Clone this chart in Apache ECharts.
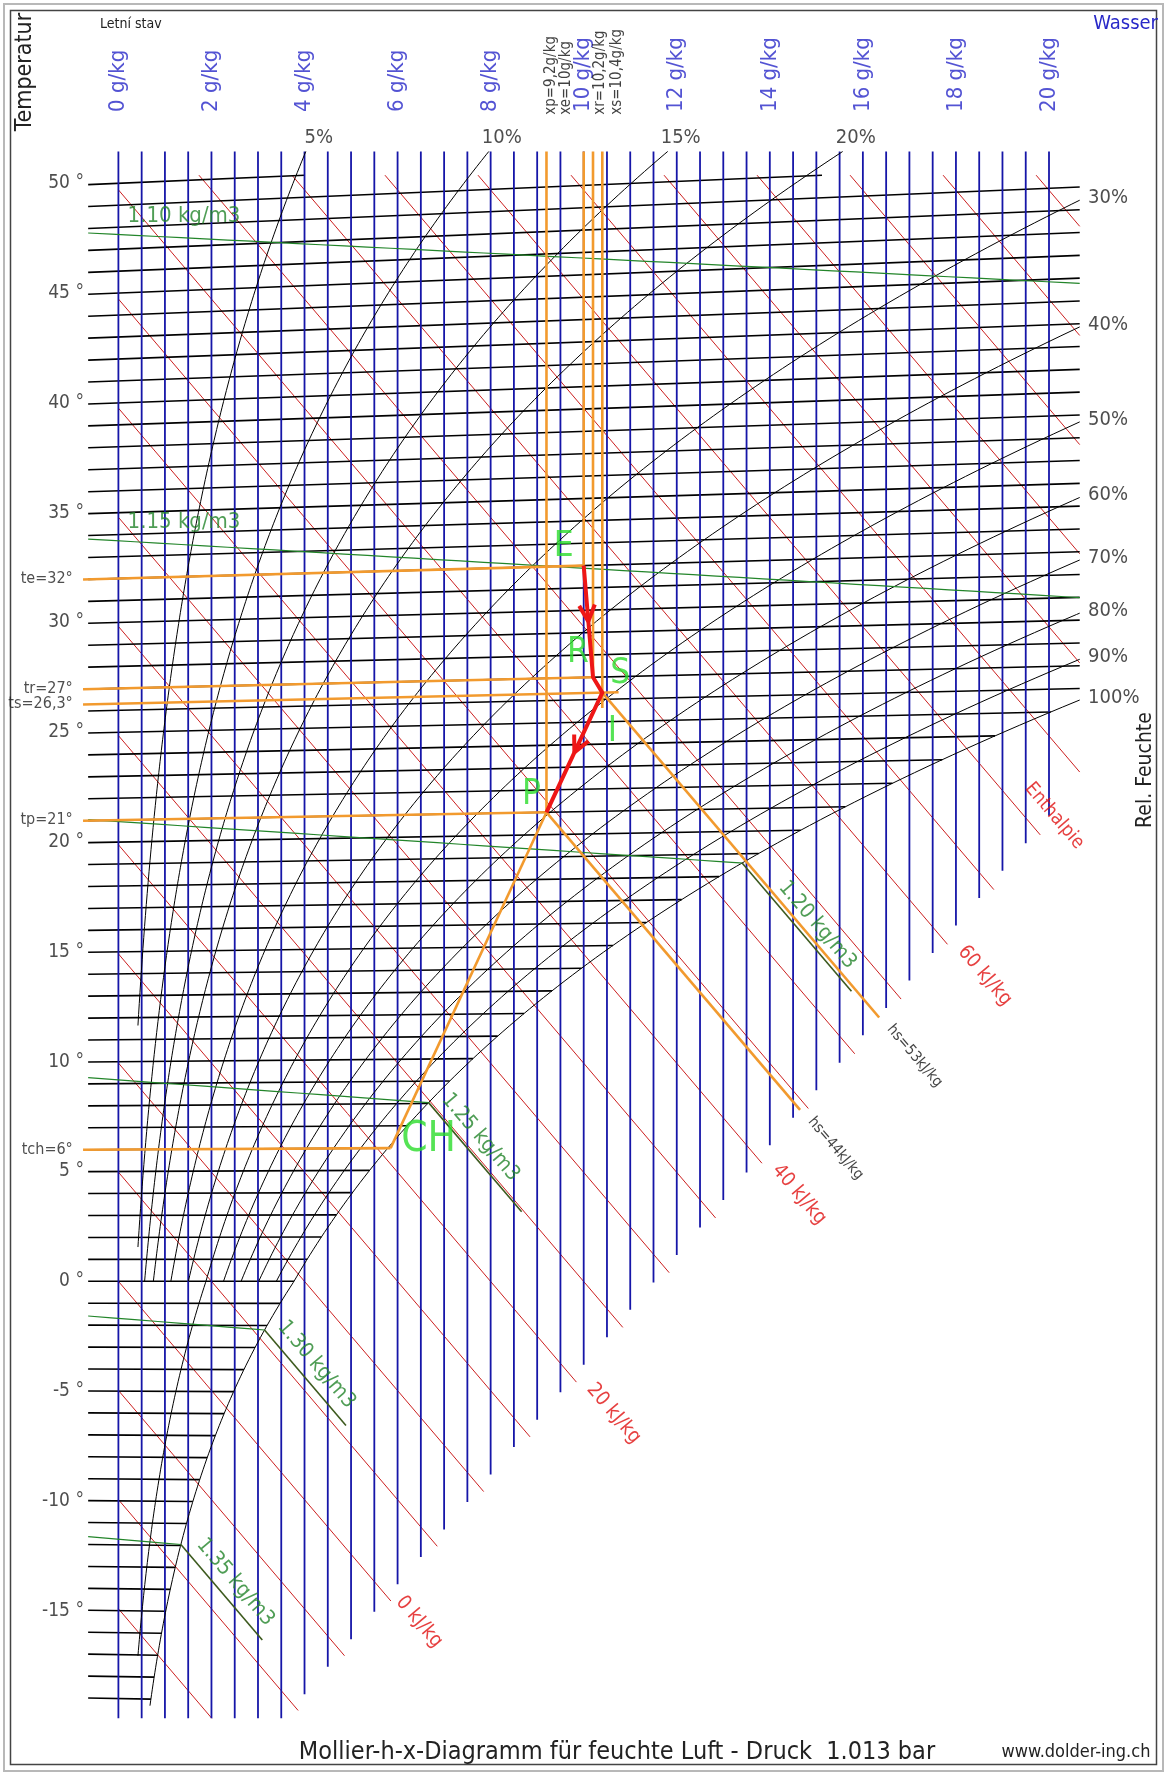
<!DOCTYPE html>
<html>
<head>
<meta charset="utf-8">
<script src="https://cdn.jsdelivr.net/npm/echarts@6/dist/echarts.min.js"></script>
<style>
  html, body { margin: 0; padding: 0; background: #fff; }
  #chart { width: 1168px; height: 1776px; }
</style>
</head>
<body>
<div id="chart"></div>
<script>
// ---- values ----
const waterLines = [0, 0.5, 1, 1.5, 2, 2.5, 3, 3.5, 4, 4.5, 5, 5.5, 6, 6.5, 7, 7.5, 8, 8.5, 9, 9.5, 10,
  10.5, 11, 11.5, 12, 12.5, 13, 13.5, 14, 14.5, 15, 15.5, 16, 16.5, 17, 17.5, 18, 18.5, 19, 19.5, 20];
const waterTicks = [0, 2, 4, 6, 8, 10, 12, 14, 16, 18, 20];
const isotherms = [-19, -18, -17, -16, -15, -14, -13, -12, -11, -10, -9, -8, -7, -6, -5, -4, -3, -2, -1,
  0, 1, 2, 3, 4, 5, 6, 7, 8, 9, 10, 11, 12, 13, 14, 15, 16, 17, 18, 19, 20, 21, 22, 23, 24, 25,
  26, 27, 28, 29, 30, 31, 32, 33, 34, 35, 36, 37, 38, 39, 40, 41, 42, 43, 44, 45, 46, 47, 48, 49, 50];
const tempTicks = [50, 45, 40, 35, 30, 25, 20, 15, 10, 5, 0, -5, -10, -15];
const rhLevels = [5, 10, 15, 20, 30, 40, 50, 60, 70, 80, 90, 100];
const rhLowestT = [0, 0, 0, 0, 0, 0, -19.3, 0, 0, 0, 0, -19.3];   // where each curve stops at the bottom
const rhTopLevels = [5, 10, 15, 20];
const enthalpyLines = [-15, -10, -5, 0, 5, 10, 15, 20, 25, 30, 35, 40, 45, 50, 55, 60, 65, 70, 75, 80, 85, 90, 95, 100];
const enthalpyLabels = [0, 20, 40, 60];
const densityLevels = [1.10, 1.15, 1.20, 1.25, 1.30, 1.35];
const densityFogDx = [0, 0, 2.35, 2.0, 1.75, 1.75];     // g/kg run of the fog part
const stateNames = ['E', 'R', 'S', 'P', 'CH'];
const stateT = [32, 27, 26.3, 21, 6];
const stateX = [10, 10.2, 10.4, 9.2, 5.85];
const stateTempLabels = ['te=32°', 'tr=27°', 'ts=26,3°', 'tp=21°', 'tch=6°'];
const stateXLabels = ['xp=9,2g/kg', 'xe=10g/kg', 'xr=10,2g/kg', 'xs=10,4g/kg'];
const hsEndX = [16.35, 14.65];   // orange enthalpy lines from S and P
const hsLabels = ['hs=53kJ/kg', 'hs=44kJ/kg'];

// ---- frame of the diagram (pixel mapping of the two value axes) ----
const W = 1168, H = 1776;
const X0PX = 118.4, KX = 46.53;     // 0 g/kg, px per g/kg
const Y0PX = 1281.3, KY = 21.96;    // 0 deg C, px per deg C
const X_LEFT = -0.65, X_RIGHT = 20.66, X_START = 0.42;
const Y_TOP = 50.37, Y_TOP_RH = 51.45, Y_BOT = -19.9;
const BND_A = -28.8, BND_B = 2.5;   // lower right edge of the grid
const P = 101.3;
const FONT = '"Liberation Sans Narrow","DejaVu Sans Condensed","Liberation Sans",Arial,sans-serif';
const stateXLabelPos = [9.31, 9.63, 10.35, 10.71];
const densityLabelAlong = [0, 0, 96, 60, 60, 64];

const BLUE = '#1616a8', RED = '#cc1f1f', GREEN = '#23852a', ORANGE = '#f29a2e', LIME = '#2bdc2b';

function psat(T) {
  return T >= 0 ? 0.61094 * Math.exp(17.625 * T / (T + 243.04))
                : 0.61115 * Math.exp(22.452 * T / (272.55 + T));
}
function xOf(T, phi) { const pv = phi * psat(T); return 622 * pv / (P - pv); }
function yOf(T, x) { return T * (1 + 0.001849 * x); }
function hOf(T, x) { return 1.006 * T + x / 1000 * (2501 + 1.86 * T); }
function yOfH(h, x) { return (h - 2.501 * x) / 1.006; }
function rhoT(rho, x) { return P * 1000 * (1 + x / 1000) / (rho * 287.05 * (1 + 1.608 * x / 1000)) - 273.15; }
function toPx(p) { return [X0PX + p[0] * KX, Y0PX - p[1] * KY]; }
function toData(q) { return [(q[0] - X0PX) / KX, (Y0PX - q[1]) / KY]; }
function bisect(f, a, b) {
  for (let i = 0; i < 60; i++) { const m = (a + b) / 2; if (f(a) * f(m) <= 0) b = m; else a = m; }
  return (a + b) / 2;
}

// isotherms
const isoData = [];
isotherms.forEach(T => {
  let x1 = Math.min(xOf(T, 1), X_RIGHT);
  if (T > 0) x1 = Math.min(x1, (Y_TOP / T - 1) / 0.001849);
  if (x1 > X_LEFT) isoData.push({ coords: [[X_LEFT, yOf(T, X_LEFT)], [x1, yOf(T, x1)]] });
});

// water content lines
const waterData = waterLines.map(x => ({ coords: [[x, Y_TOP_RH], [x, Math.max(Y_BOT, BND_A + BND_B * x)]] }));

// enthalpy lines
const hEnd = {};
const enthData = [];
enthalpyLines.forEach(h => {
  const xa = Math.max(0, (h - 1.006 * Y_TOP) / 2.501);
  const xb = Math.min(X_RIGHT, (h - 1.006 * (BND_A - 0.4)) / (2.501 + 1.006 * BND_B), (h - 1.006 * Y_BOT) / 2.501);
  if (xb <= xa) return;
  hEnd[h] = [xb, yOfH(h, xb)];
  enthData.push({ coords: [[xa, yOfH(h, xa)], hEnd[h]] });
});

// relative humidity curves
const rhEnd = {};
const rhData = rhLevels.map((r, i) => {
  const phi = r / 100, tLow = rhLowestT[i];
  let T = xOf(tLow, phi) >= X_START ? tLow : bisect(t => xOf(t, phi) - X_START, tLow, 50);
  const pts = [];
  for (; T < 70; T += 0.25) {
    const x = xOf(T, phi), y = yOf(T, x);
    if (x > X_RIGHT || y > Y_TOP_RH) {
      const [px, py] = pts[pts.length - 1];
      let f = 1;
      if (x > X_RIGHT) f = Math.min(f, (X_RIGHT - px) / (x - px));
      if (y > Y_TOP_RH) f = Math.min(f, (Y_TOP_RH - py) / (y - py));
      pts.push([px + f * (x - px), py + f * (y - py)]);
      break;
    }
    pts.push([x, y]);
  }
  rhEnd[r] = pts[pts.length - 1];
  return { coords: pts };
});

// density lines (dry part + fog part)
const rhoSat = [];
const densData = [];
const fogData = [];
densityLevels.forEach((rho, i) => {
  const f = x => xOf(rhoT(rho, x), 1) - x;
  const xs = f(X_RIGHT) > 0 ? X_RIGHT : bisect(f, 0, X_RIGHT);
  const pts = [];
  for (let x = X_LEFT; x < xs; x += 0.5) pts.push([x, yOf(rhoT(rho, x), x)]);
  pts.push([xs, yOf(rhoT(rho, xs), xs)]);
  densData.push({ coords: pts });
  rhoSat.push(pts[pts.length - 1]);
  if (densityFogDx[i] > 0) {
    const hs = hOf(rhoT(rho, xs), xs);
    const xe = xs + densityFogDx[i];
    fogData.push({ coords: [[xs, yOfH(hs, xs)], [xe, yOfH(hs, xe)]] });
  }
});

// process: states, orange construction lines, red path
const st = stateNames.map((n, i) => [stateX[i], yOf(stateT[i], stateX[i])]);
const [E, R, S, Pp, CH] = st;
const orangeData = [];
stateNames.forEach((n, i) => {
  const T = stateT[i];
  const xr = n === 'S' ? stateX[i] + 0.35 : stateX[i];
  orangeData.push({ coords: [[-0.76, yOf(T, -0.76)], [xr, yOf(T, xr)]] });
  if (n !== 'CH') {
    const yb = n === 'S' ? st[i][1] - 0.7 : st[i][1];
    orangeData.push({ coords: [[stateX[i], Y_TOP_RH], [stateX[i], yb]] });
  }
});
orangeData.push({ coords: [CH, Pp] });
orangeData.push({ coords: [R, S] });
const hS = hOf(stateT[2], stateX[2]), hP = hOf(stateT[3], stateX[3]);
const hsEnds = [[hsEndX[0], yOfH(hS, hsEndX[0])], [hsEndX[1], yOfH(hP, hsEndX[1])]];
orangeData.push({ coords: [S, hsEnds[0]] });
orangeData.push({ coords: [Pp, hsEnds[1]] });

function arrowHead(a, b) {
  const pa = toPx(a), pb = toPx(b);
  const tip = [(pa[0] + pb[0]) / 2, (pa[1] + pb[1]) / 2];
  const ang = Math.atan2(pb[1] - pa[1], pb[0] - pa[0]);
  const wing = s => toData([tip[0] - 18 * Math.cos(ang + s), tip[1] - 18 * Math.sin(ang + s)]);
  return [{ coords: [wing(0.45), toData(tip)] }, { coords: [wing(-0.45), toData(tip)] }];
}
const pathData = [{ coords: [E, R, S, Pp] }].concat(arrowHead(E, R), arrowHead(S, Pp));

// ---- labels ----
const ENTH_DIR = [0.649, 0.761];   // direction of an enthalpy line on screen
const ENTH_ROT = -49.6;
function along(p, s, k) {
  const q = toPx(p);
  return toData([q[0] + s * ENTH_DIR[0] + k * ENTH_DIR[1], q[1] + s * ENTH_DIR[1] - k * ENTH_DIR[0]]);
}
function lbl(value, text, o) {
  return {
    value: value,
    label: Object.assign({ show: true, formatter: text, position: 'inside', fontFamily: FONT,
      fontSize: 19, color: '#222', align: 'center', verticalAlign: 'middle' }, o)
  };
}
const labels = [];
tempTicks.forEach(T => labels.push(lbl([-0.74, T], T + ' °', { align: 'right' })));
waterTicks.forEach(x => labels.push(lbl([x, 53.25], x + ' g/kg', { rotate: 90, align: 'left', color: '#2828c8', fontSize: 22 })));
stateXLabels.forEach((t, i) => labels.push(lbl([stateXLabelPos[i], 53.12], t, { rotate: 90, align: 'left', fontSize: 15, color: '#111' })));
rhTopLevels.forEach(r => {
  const q = toPx(rhEnd[r]);
  labels.push(lbl(toData([q[0] + 13, q[1] - 14]), r + '%', { fontSize: 20 }));
});
rhLevels.filter(r => rhTopLevels.indexOf(r) < 0).forEach(r => {
  labels.push(lbl([20.84, rhEnd[r][1] + 0.1], r + '%', { align: 'left', fontSize: 20 }));
});
enthalpyLabels.forEach(h => labels.push(lbl(along(hEnd[h], h === 0 ? 4 : 12, 8), h + ' kJ/kg',
  { align: 'left', rotate: ENTH_ROT, color: '#e01010', fontSize: 20 })));
{
  const q = toPx(hEnd[70]);
  labels.push(lbl(toData([q[0] + 14, q[1] - 19]), 'Enthalpie', { rotate: ENTH_ROT, color: '#e01010', fontSize: 19 }));
}
hsEnds.forEach((p, i) => labels.push(lbl(along(p, 14, 2), hsLabels[i], { align: 'left', rotate: ENTH_ROT, fontSize: 15, color: '#111' })));
densityLevels.forEach((rho, i) => {
  const text = rho.toFixed(2) + ' kg/m3';
  if (densityFogDx[i] === 0) {
    labels.push(lbl([1.41, yOf(rhoT(rho, 1.41), 1.41) + 1.0], text, { color: GREEN, fontSize: 22 }));
  } else {
    labels.push(lbl(along(rhoSat[i], densityLabelAlong[i], 17), text, { rotate: ENTH_ROT, color: GREEN, fontSize: 21 }));
  }
});
stateTempLabels.forEach((t, i) => labels.push(lbl([-0.98, stateT[i]], t, { align: 'right', fontSize: 16 })));
const letterOffsets = { E: [-20, -19], R: [-15, -24], S: [18, -19], I: [10, 39], P: [-15, -17], CH: [38, -8] };
['E', 'R', 'S', 'I', 'P', 'CH'].forEach(n => {
  const base = st[stateNames.indexOf(n === 'I' ? 'S' : n)];
  const q = toPx(base), o = letterOffsets[n];
  labels.push(lbl(toData([q[0] + o[0], q[1] + o[1]]), n, { color: LIME, fontSize: n === 'CH' ? 42 : 35 }));
});

function linesSeries(data, color, width, z) {
  return { type: 'lines', coordinateSystem: 'cartesian2d', polyline: true, silent: true, z: z,
    data: data, lineStyle: { color: color, width: width, opacity: 1 } };
}

const option = {
  animation: false,
  backgroundColor: '#fff',
  grid: { left: 0, right: 0, top: 0, bottom: 0, containLabel: false },
  xAxis: { type: 'value', min: -X0PX / KX, max: (W - X0PX) / KX, show: false },
  yAxis: { type: 'value', min: -(H - Y0PX) / KY, max: Y0PX / KY, show: false },
  series: [
    linesSeries(enthData, RED, 1, 1),
    linesSeries(isoData, '#000', 1.6, 2),
    linesSeries(waterData, BLUE, 1.8, 3),
    linesSeries(rhData, '#000', 1, 4),
    linesSeries(densData, GREEN, 1.2, 5),
    linesSeries(fogData, '#3d5a1e', 1.6, 5),
    linesSeries(orangeData, ORANGE, 2.6, 6),
    linesSeries(pathData, '#ee1616', 4, 7),
    { type: 'scatter', silent: true, z: 10, symbolSize: 1, itemStyle: { color: 'transparent' }, data: labels }
  ],
  graphic: [
    { type: 'rect', shape: { x: 4, y: 4, width: W - 9, height: H - 9 }, style: { fill: 'none', stroke: '#b8b8b8', lineWidth: 2 } },
    { type: 'rect', shape: { x: 10.5, y: 10.5, width: W - 22, height: H - 22 }, style: { fill: 'none', stroke: '#444', lineWidth: 1.5 } },
    { type: 'text', x: 25, y: 72, rotation: Math.PI / 2,
      style: { text: 'Temperatur', font: '23px ' + FONT, fill: '#222', textAlign: 'center', textVerticalAlign: 'middle' } },
    { type: 'text', x: 100, y: 24,
      style: { text: 'Letní stav', font: '14px ' + FONT, fill: '#222', textAlign: 'left', textVerticalAlign: 'middle' } },
    { type: 'text', x: 1158, y: 24,
      style: { text: 'Wasser', font: '20px ' + FONT, fill: '#2828c8', textAlign: 'right', textVerticalAlign: 'middle' } },
    { type: 'text', x: 1146, y: 770, rotation: Math.PI / 2,
      style: { text: 'Rel. Feuchte', font: '21px ' + FONT, fill: '#222', textAlign: 'center', textVerticalAlign: 'middle' } },
    { type: 'text', x: 617, y: 1752,
      style: { text: 'Mollier-h-x-Diagramm für feuchte Luft - Druck  1.013 bar', font: '25px ' + FONT, fill: '#222', textAlign: 'center', textVerticalAlign: 'middle' } },
    { type: 'text', x: 1076, y: 1752,
      style: { text: 'www.dolder-ing.ch', font: '18px ' + FONT, fill: '#222', textAlign: 'center', textVerticalAlign: 'middle' } }
  ]
};

const chart = echarts.init(document.getElementById('chart'), null, { renderer: 'canvas' });
chart.setOption(option);
window.addEventListener('resize', () => chart.resize());
</script>
</body>
</html>
